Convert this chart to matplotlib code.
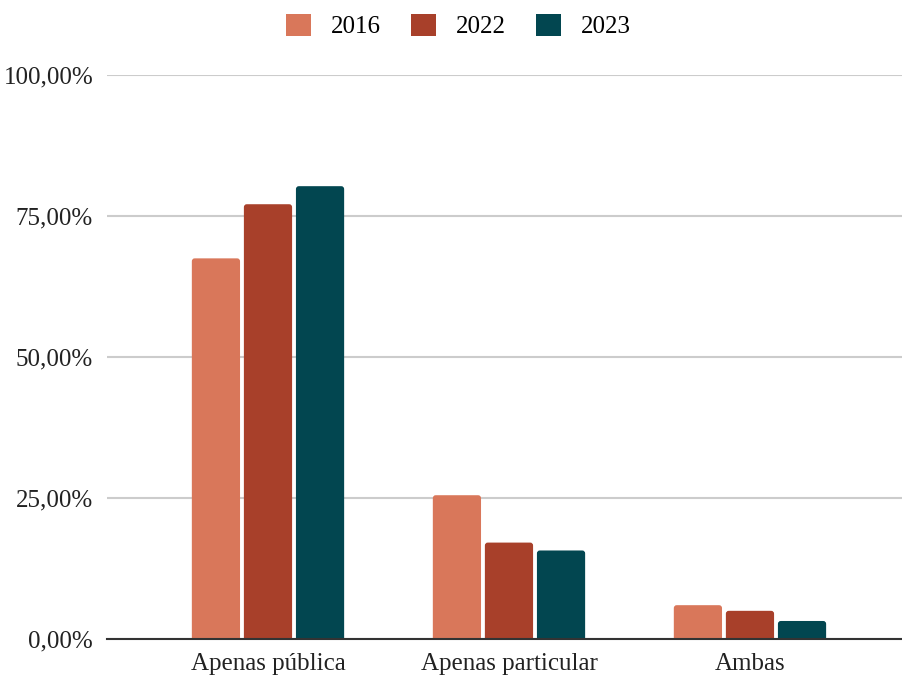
import numpy as np
import matplotlib.pyplot as plt
from matplotlib.patches import FancyBboxPatch, Patch

categorias = ["Apenas pública", "Apenas particular", "Ambas"]
anos = ["2016", "2022", "2023"]
v2016 = [67.5, 25.5, 6.0]
v2022 = [77.1, 17.1, 5.0]
v2023 = [80.3, 15.7, 3.2]
yticks = [0, 25, 50, 75, 100]
ytick_labels = ["0,00%", "25,00%", "50,00%", "75,00%", "100,00%"]

cores = ["#D9775A", "#A8402A", "#024650"]

plt.rcParams["font.family"] = ["Liberation Serif", "DejaVu Serif"]

fig = plt.figure(figsize=(9.03, 6.77), dpi=100)
ax = fig.add_axes([0.1185, 0.0561, 0.8815, 0.833])

x = np.arange(len(categorias))
largura = 0.2
passo = 0.216
for i, (vals, ano) in enumerate(zip([v2016, v2022, v2023], anos)):
    barras = ax.bar(x + (i - 1) * passo, vals, width=largura, color=cores[i], zorder=3)
    # cantos arredondados no topo
    for b in barras:
        b.set_visible(False)
        p = FancyBboxPatch((b.get_x(), -2), b.get_width(), b.get_height() + 2,
                           boxstyle="round,pad=0,rounding_size=0.012",
                           mutation_aspect=42.7, facecolor=cores[i],
                           edgecolor="none", zorder=3)
        ax.add_patch(p)

ax.set_ylim(0, 100)
ax.set_xlim(-0.668, 2.635)
ax.set_yticks(yticks)
ax.set_yticklabels(ytick_labels)
ax.set_xticks(x)
ax.set_xticklabels(categorias)
ax.tick_params(axis="both", length=0, labelsize=18, colors="#222222")
ax.tick_params(axis="x", pad=10)
ax.tick_params(axis="y", pad=10)

ax.grid(axis="y", color="#cccccc", linewidth=1.5, zorder=0)
for lado in ["top", "right", "left"]:
    ax.spines[lado].set_visible(False)
ax.spines["bottom"].set_color("#333333")
ax.spines["bottom"].set_linewidth(1.5)
ax.spines["bottom"].set_zorder(4)

handles = [Patch(facecolor=c, edgecolor="none", label=a) for c, a in zip(cores, anos)]
fig.legend(handles=handles, loc="upper center", bbox_to_anchor=(0.508, 1.013), ncol=3,
           frameon=False, fontsize=18, handlelength=1.0, handleheight=1.0,
           columnspacing=1.2, handletextpad=0.8)

fig.savefig("out.png", dpi=100)
